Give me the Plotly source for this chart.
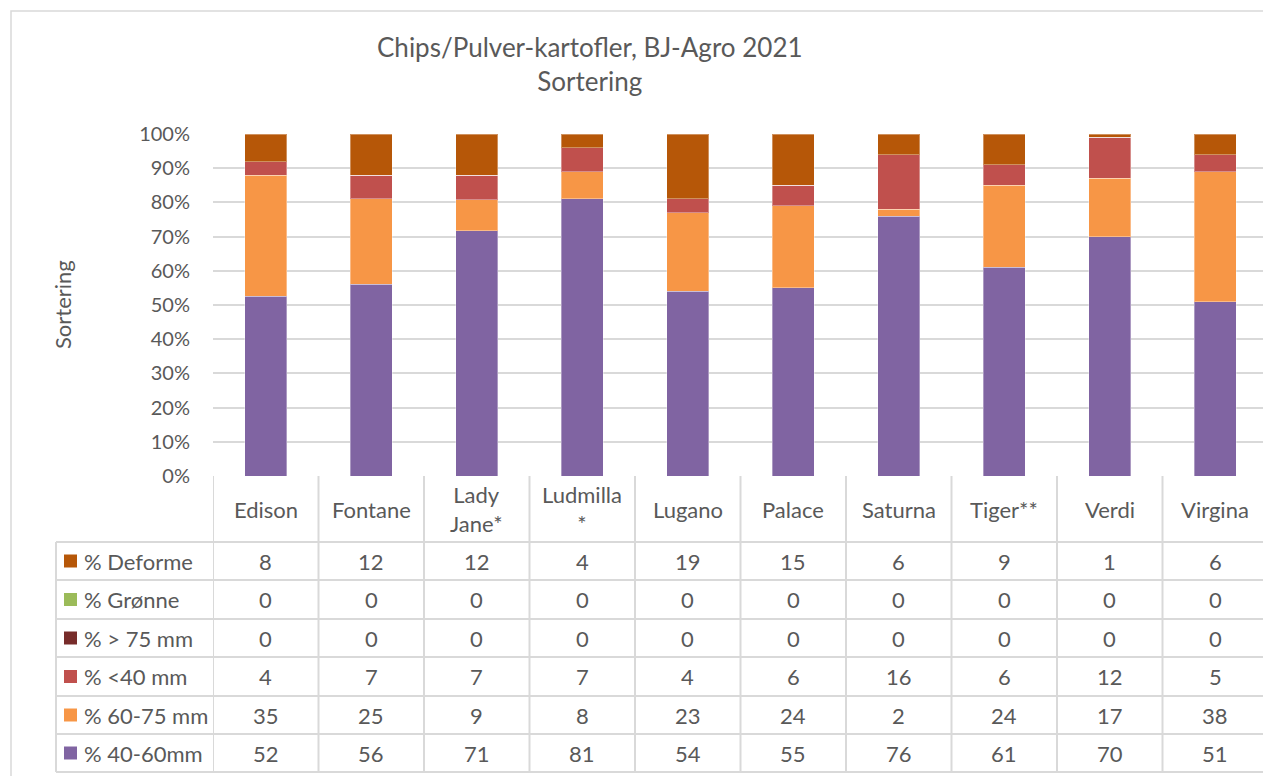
import plotly.graph_objects as go

# ---------------- data ----------------
categories = ["Edison", "Fontane", "Lady Jane*", "Ludmilla *", "Lugano",
              "Palace", "Saturna", "Tiger**", "Verdi", "Virgina"]
header_labels = ["Edison", "Fontane", "Lady<br>Jane*", "Ludmilla<br>*", "Lugano",
                 "Palace", "Saturna", "Tiger**", "Verdi", "Virgina"]

deforme = [8, 12, 12, 4, 19, 15, 6, 9, 1, 6]
gronne = [0, 0, 0, 0, 0, 0, 0, 0, 0, 0]
over75 = [0, 0, 0, 0, 0, 0, 0, 0, 0, 0]
under40 = [4, 7, 7, 7, 4, 6, 16, 6, 12, 5]
mm60_75 = [35, 25, 9, 8, 23, 24, 2, 24, 17, 38]
mm40_60 = [52, 56, 71, 81, 54, 55, 76, 61, 70, 51]

series_names = ["% 40-60mm", "% 60-75 mm", "% <40 mm", "% > 75 mm", "% Grønne", "% Deforme"]
series_values = [mm40_60, mm60_75, under40, over75, gronne, deforme]
series_colors = ["#8064A2", "#F79646", "#C0504D", "#772C2A", "#9BBB59", "#B65708"]

y_ticks = [0, 10, 20, 30, 40, 50, 60, 70, 80, 90, 100]
y_tick_labels = ["0%", "10%", "20%", "30%", "40%", "50%", "60%", "70%", "80%", "90%", "100%"]

# ---------------- layout geometry (pixels, in page coordinates) ----------------
OFF = 8  # default body margin of the html page
W, H = 1271 - OFF, 776 - OFF
L, R, T, B = 213, 1268, 134, 476
FONT = "Lato"
TXT = "#595959"
GRID = "#D9D9D9"


def px(xp):
    return (xp - L) / (R - L)


def py(yp):
    return (B - yp) / (B - T)


fig = go.Figure()
for name, vals, col in zip(series_names, series_values, series_colors):
    fig.add_trace(go.Bar(
        x=categories, y=vals, name=name,
        marker=dict(color=col, line=dict(color="rgba(255,255,255,0.35)", width=1)),
        width=0.4,
    ))

shapes = []
annotations = []

# outer chart border
shapes.append(dict(type="rect", xref="paper", yref="paper",
                   x0=px(11), x1=px(1300), y0=py(11), y1=py(800),
                   line=dict(color=GRID, width=1.5), fillcolor="rgba(0,0,0,0)", layer="below"))

# table geometry
row_bounds = [542, 580, 619, 657, 696, 734, 772]
table_left = 56
n = len(categories)

# vertical lines at category boundaries (data coords)
for i in range(n + 1):
    shapes.append(dict(type="line", xref="x", yref="paper",
                       x0=i - 0.5, x1=i - 0.5, y0=py(B), y1=py(row_bounds[-1]),
                       line=dict(color=GRID, width=2)))
# left edge of table
shapes.append(dict(type="line", xref="paper", yref="paper",
                   x0=px(table_left), x1=px(table_left), y0=py(row_bounds[0]), y1=py(row_bounds[-1]),
                   line=dict(color=GRID, width=2)))
# horizontal lines
for yb in row_bounds:
    shapes.append(dict(type="line", xref="paper", yref="paper",
                       x0=px(table_left), x1=1, y0=py(yb), y1=py(yb),
                       line=dict(color=GRID, width=2)))

TS = 22
# header labels
header_center = (B + row_bounds[0]) / 2
for cat, lab in zip(categories, header_labels):
    annotations.append(dict(x=cat, y=py(header_center), xref="x", yref="paper",
                            text=lab, showarrow=False, xanchor="center", yanchor="middle",
                            font=dict(family=FONT, size=TS, color=TXT)))

# table rows (top to bottom: reverse of stacking order)
rows = list(zip(series_names, series_values, series_colors))[::-1]
for r, (name, vals, col) in enumerate(rows):
    yc = (row_bounds[r] + row_bounds[r + 1]) / 2
    shapes.append(dict(type="rect", xref="paper", yref="paper",
                       x0=px(64), x1=px(77), y0=py(yc - 6.5), y1=py(yc + 6.5),
                       fillcolor=col, line=dict(width=0)))
    annotations.append(dict(x=px(82), y=py(yc), xref="paper", yref="paper",
                            text=name, showarrow=False, xanchor="left", yanchor="middle",
                            font=dict(family=FONT, size=TS, color=TXT)))
    for cat, v in zip(categories, vals):
        annotations.append(dict(x=cat, y=py(yc), xref="x", yref="paper",
                                text=str(v), showarrow=False, xanchor="center", yanchor="middle",
                                font=dict(family=FONT, size=TS, color=TXT)))

# y axis title
annotations.append(dict(x=px(62), y=py(305), xref="paper", yref="paper",
                        text="Sortering", textangle=-90, showarrow=False,
                        xanchor="center", yanchor="middle",
                        font=dict(family=FONT, size=TS, color=TXT)))

# title
annotations.append(dict(x=px(590), y=py(64), xref="paper", yref="paper",
                        text="Chips/Pulver-kartofler, BJ-Agro 2021<br>Sortering",
                        showarrow=False, xanchor="center", yanchor="middle",
                        font=dict(family=FONT, size=26, color=TXT)))

fig.update_layout(
    width=W, height=H, autosize=False,
    margin=dict(l=L - OFF, r=W - (R - OFF), t=T - OFF, b=H - (B - OFF), pad=0),
    barmode="stack", barnorm="percent",
    plot_bgcolor="white", paper_bgcolor="white",
    showlegend=False,
    shapes=shapes, annotations=annotations,
    xaxis=dict(range=[-0.5, n - 0.5], showticklabels=False, showgrid=False,
               showline=False, zeroline=False, ticks=""),
    yaxis=dict(range=[0, 100], tickmode="array", tickvals=y_ticks, ticktext=y_tick_labels,
               showgrid=True, gridcolor=GRID, gridwidth=1.5, zeroline=False,
               showline=False, ticks="", ticklabelstandoff=22,
               tickfont=dict(family=FONT, size=20, color=TXT)),
    font=dict(family=FONT, color=TXT),
)

fig.write_html("out.html")
